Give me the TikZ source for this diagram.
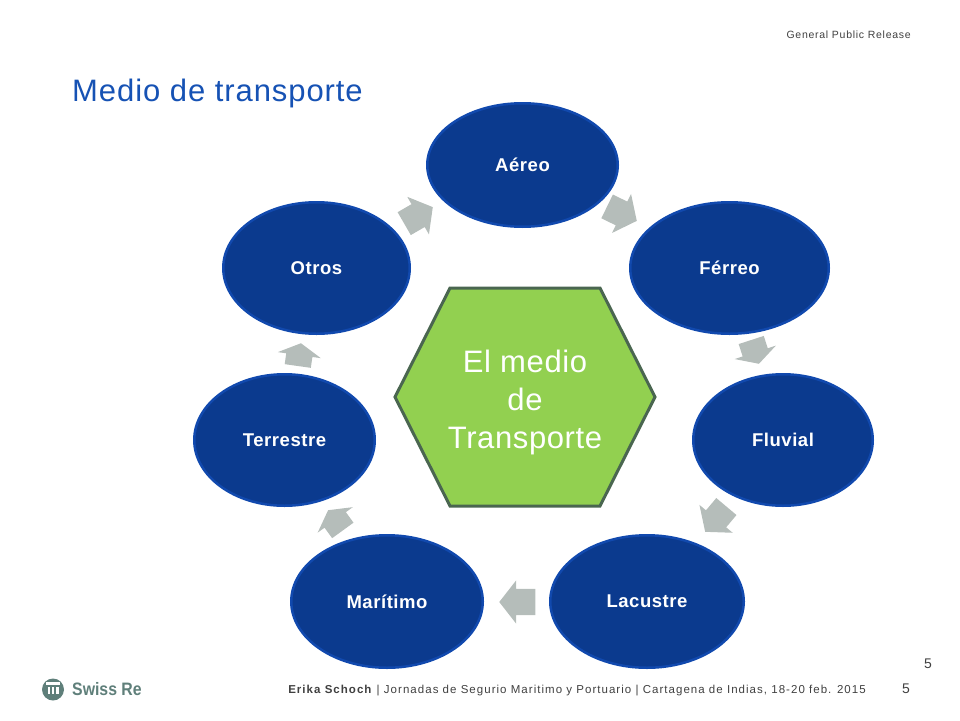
\documentclass[tikz,border=0pt]{standalone}
\usepackage{fontspec}
\setmainfont{Liberation Sans}
\usetikzlibrary{shapes.geometric,shapes.arrows}
\definecolor{medioblue}{HTML}{0B3A8E}
\definecolor{medioedge}{HTML}{1149AE}
\definecolor{mediogreen}{HTML}{92D050}
\definecolor{hexedge}{HTML}{4A6650}
\definecolor{flecha}{HTML}{B5BDBA}
\definecolor{titleblue}{HTML}{1652B4}
\definecolor{swissgray}{HTML}{5F7F7A}
\tikzset{
    medio/.style={ellipse, draw=medioedge, fill=medioblue, line width=2.5pt, inner sep=0pt,
        text=white, font=\fontsize{18.5}{20}\selectfont\addfontfeatures{LetterSpace=3}\bfseries},
    flechita/.style={single arrow, fill=flecha, inner xsep=0pt, inner ysep=13pt, anchor=tip,
        minimum height=33pt, single arrow head extend=8.5pt, single arrow tip angle=104},
    pie/.style={inner sep=0pt, text=black!75, font=\fontsize{10.5}{12}\selectfont\addfontfeatures{LetterSpace=7}}
}
\begin{document}
\begin{tikzpicture}[x=1pt, y=-1pt]
    \useasboundingbox (0,0) rectangle (960,720);
    % ellipses
    \node[medio, minimum width=190.5pt, minimum height=123.5pt] (aereo) at (522.5,165) {Aéreo};
    \node[medio, minimum width=198.5pt, minimum height=131.5pt] (ferreo) at (729.5,268) {Férreo};
    \node[medio, minimum width=179.5pt, minimum height=131.5pt] (fluvial) at (783,440) {Fluvial};
    \node[medio, minimum width=193.5pt, minimum height=132.5pt] (lacustre) at (647,601.5) {Lacustre};
    \node[medio, minimum width=191.5pt, minimum height=132.5pt] (maritimo) at (387,601.5) {Marítimo};
    \node[medio, minimum width=180.5pt, minimum height=131.5pt] (terrestre) at (284.5,440) {Terrestre};
    \node[medio, minimum width=186.5pt, minimum height=131.5pt] (otros) at (316.5,268) {Otros};
    % block arrows, placed by their tips
    \node[flechita, rotate=30] (a1) at (433,207) {};
    \node[flechita, rotate=-26] (a2) at (637,221) {};
    \node[flechita, rotate=-72, minimum height=25pt, single arrow tip angle=122] (a3) at (759,364) {};
    \node[flechita, rotate=230] (a4) at (705,532) {};
    \node[flechita, rotate=180, minimum height=36pt] (a5) at (499,602) {};
    \node[flechita, rotate=126, minimum height=25pt, single arrow tip angle=122] (a6) at (328,510) {};
    \node[flechita, rotate=82, minimum height=23pt, single arrow tip angle=122] (a7) at (301,343) {};
    % hexagon
    \draw[draw=hexedge, fill=mediogreen, line width=3pt, line join=miter]
        (395,397) -- (450,288) -- (600,288) -- (655,397) -- (600,506) -- (450,506) -- cycle;
    \node[align=center, text=white, inner sep=0pt, font=\fontsize{31}{38}\selectfont\addfontfeatures{LetterSpace=2}] (centro) at (525,402)
        {El medio\\de\\Transporte};
    % header and footer
    \node[anchor=west, inner sep=0pt, text=titleblue, font=\fontsize{31}{34}\selectfont\addfontfeatures{LetterSpace=3}] (titulo) at (72,93) {Medio de transporte};
    \node[pie, anchor=east] (release) at (911,35) {General Public Release};
    \node[pie, anchor=east, font=\fontsize{11.5}{13}\selectfont\addfontfeatures{LetterSpace=9}] (pie) at (866,691) {\textbf{Erika Schoch} | Jornadas de Segurio Maritimo y Portuario | Cartagena de Indias, 18-20 feb. 2015};
    \node[pie, font=\fontsize{14}{16}\selectfont] (num) at (906,689) {5};
    \node[pie, font=\fontsize{14}{16}\selectfont] (numb) at (928,664) {5};
    % logo
    \node[circle, fill=swissgray, minimum size=22pt, inner sep=0pt] (logo) at (53,689.5) {};
    \fill[white] (46,682) rectangle (60,685);
    \foreach \x in {47.5,51.8,56.1} \fill[white] (\x,687) rectangle ++(2.4,7);
    \node[anchor=west, inner sep=0pt, text=swissgray, font=\fontsize{18}{20}\selectfont\addfontfeatures{FakeStretch=0.88}\bfseries] (swiss) at (72,689.5) {Swiss Re};
\end{tikzpicture}
\end{document}
